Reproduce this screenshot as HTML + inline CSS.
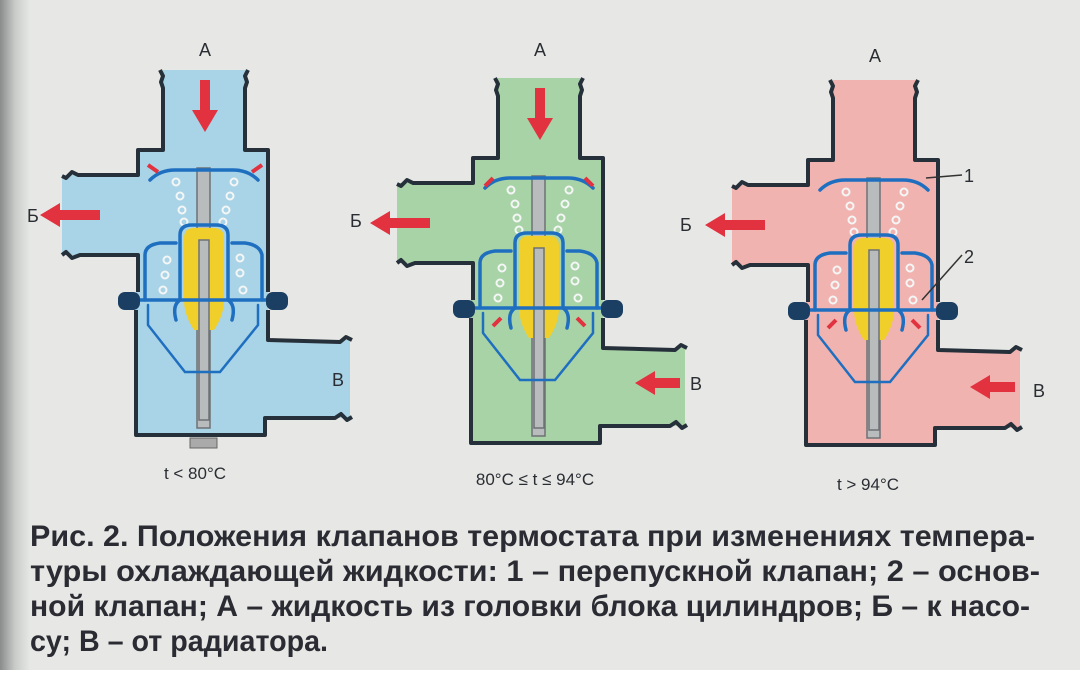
<!DOCTYPE html>
<html><head><meta charset="utf-8"><style>
html,body{margin:0;padding:0;background:#fff;}
svg{display:block;}
</style></head><body>
<svg width="1080" height="691" viewBox="0 0 1080 691" xmlns="http://www.w3.org/2000/svg">
<defs>
<linearGradient id="edge" x1="0" x2="1" y1="0" y2="0">
<stop offset="0" stop-color="#8a8c8c"/><stop offset="0.5" stop-color="#c9cbc9"/><stop offset="1" stop-color="#e6e8e5"/>
</linearGradient>
<g id="thermo">
<g fill="none" stroke="#f4f6f6" stroke-width="2">
<circle cx="176" cy="182" r="3.5"/><circle cx="180" cy="196" r="3.5"/><circle cx="182" cy="210" r="3.5"/><circle cx="184" cy="222" r="3.5"/>
<circle cx="234" cy="182" r="3.5"/><circle cx="230" cy="196" r="3.5"/><circle cx="226" cy="210" r="3.5"/><circle cx="223" cy="222" r="3.5"/>
<circle cx="167" cy="260" r="3.5"/><circle cx="165" cy="275" r="3.5"/><circle cx="163" cy="290" r="3.5"/>
<circle cx="240" cy="258" r="3.5"/><circle cx="240" cy="273" r="3.5"/><circle cx="243" cy="290" r="3.5"/>
</g>
<rect x="197" y="168" width="13" height="260" fill="#b9bcbc" stroke="#6d7275" stroke-width="1.5"/>
<path d="M184,238 Q184,228 194,228 L214,228 Q224,228 224,238 L224,300 Q224,315 214,330 L194,330 Q184,315 184,300 Z" fill="#f1cf2a"/>
<rect x="199" y="240" width="10" height="180" fill="#b9bcbc" stroke="#6d7275" stroke-width="1.5"/>
<g fill="none" stroke="#1f6fc0" stroke-width="3.5" stroke-linecap="round">
<path d="M150,180 Q160,170 175,170 L233,170 Q248,170 258,180"/>
<path d="M180,300 L180,235 Q180,225 192,225 L216,225 Q228,225 228,235 L228,300"/>
<path d="M145,300 L145,255 Q145,245 160,243 L176,243"/>
<path d="M262,300 L262,255 Q260,245 245,243 L232,243"/>
<path d="M125,300 L280,300"/>
<path d="M180,300 Q172,305 176,320"/><path d="M228,300 Q236,305 232,320"/>
<path d="M148,305 L148,325 L185,372 L220,372 L258,325 L258,305" stroke-width="2.5"/>
</g>
<rect x="118" y="292" width="22" height="18" rx="7" fill="#1a3f63"/>
<rect x="266" y="292" width="22" height="18" rx="7" fill="#1a3f63"/>
<path d="M160,70 L163,76 L161,82 L163,88 L163,150 L138,150 L138,175 L78,175 L72,172 L66,178 L62,176 M62,255 L66,252 L72,258 L80,255 L138,255 L138,292 M136,310 L136,435 L265,435 L265,418 L335,418 L341,414 L347,420 L352,417 M352,340 L346,337 L340,342 L268,340 L268,310 M268,292 L268,150 L245,150 L245,88 L247,82 L245,76 L248,70" fill="none" stroke="#26303a" stroke-width="4" stroke-linejoin="round"/>
</g>
</defs>
<rect x="0" y="0" width="1080" height="670" fill="#e7e8e5"/>
<rect x="0" y="0" width="30" height="670" fill="url(#edge)"/>

<g>
<path d="M163,70 L245,70 L245,150 L268,150 L268,340 L350,340 L350,418 L265,418 L265,435 L136,435 L136,255 L62,255 L62,175 L138,175 L138,150 L163,150 Z" fill="#a9d3e6"/>
<use href="#thermo"/>
<rect x="190" y="438" width="27" height="10" fill="#aaa" stroke="#666"/>
<path d="M200,80 L210,80 L210,110 L218,110 L205,132 L192,110 L200,110 Z" fill="#e2313f"/>
<path d="M100,210 L100,220 L60,220 L60,227 L40,215 L60,203 L60,210 Z" fill="#e2313f"/>
<path d="M148,165 L158,172 M262,165 L252,172" stroke="#e2313f" stroke-width="4"/>
</g>
<g font-family="Liberation Sans,sans-serif" font-size="18" fill="#2a2d33">
<text x="205" y="56" text-anchor="middle">А</text>
<text x="27" y="222">Б</text>
<text x="332" y="386">В</text>
<text x="195" y="479" text-anchor="middle" font-size="17">t &lt; 80°C</text>
<text x="540" y="56" text-anchor="middle">А</text>
<text x="350" y="227">Б</text>
<text x="690" y="390">В</text>
<text x="535" y="485" text-anchor="middle" font-size="17">80°C ≤ t ≤ 94°C</text>
<text x="875" y="62" text-anchor="middle">А</text>
<text x="680" y="231">Б</text>
<text x="1033" y="397">В</text>
<text x="964" y="182">1</text>
<text x="964" y="263">2</text>
<text x="868" y="490" text-anchor="middle" font-size="17">t &gt; 94°C</text>
</g>

<g transform="translate(335,8)">
<path d="M163,70 L245,70 L245,150 L268,150 L268,340 L350,340 L350,418 L265,418 L265,435 L136,435 L136,255 L62,255 L62,175 L138,175 L138,150 L163,150 Z" fill="#a8d3a6"/>
<use href="#thermo"/>
<path d="M200,80 L210,80 L210,110 L218,110 L205,132 L192,110 L200,110 Z" fill="#e2313f"/>
<path d="M95,210 L95,220 L55,220 L55,227 L35,215 L55,203 L55,210 Z" fill="#e2313f"/>
<path d="M345,370 L345,380 L320,380 L320,387 L300,375 L320,363 L320,370 Z" fill="#e2313f"/>
<path d="M150,178 L158,170 M258,178 L250,170 M158,318 L166,310 M250,318 L242,310" stroke="#e2313f" stroke-width="4"/>
</g>

<g transform="translate(670,10)">
<path d="M163,70 L245,70 L245,150 L268,150 L268,340 L350,340 L350,418 L265,418 L265,435 L136,435 L136,255 L62,255 L62,175 L138,175 L138,150 L163,150 Z" fill="#f1b3b0"/>
<use href="#thermo"/>
<path d="M95,210 L95,220 L55,220 L55,227 L35,215 L55,203 L55,210 Z" fill="#e2313f"/>
<path d="M345,372 L345,382 L320,382 L320,389 L300,377 L320,365 L320,372 Z" fill="#e2313f"/>
<path d="M158,318 L166,310 M250,318 L242,310" stroke="#e2313f" stroke-width="4"/>
<path d="M256,168 L292,165 M252,290 L292,245" stroke="#333" stroke-width="1.5"/>
</g>

<g font-family="Liberation Sans,sans-serif" font-weight="bold" font-size="30" fill="#2b2c33">
<text x="30" y="546" textLength="1005" lengthAdjust="spacingAndGlyphs">Рис. 2. Положения клапанов термостата при изменениях темпера-</text>
<text x="30" y="581" textLength="1010" lengthAdjust="spacingAndGlyphs">туры охлаждающей жидкости: 1 – перепускной клапан; 2 – основ-</text>
<text x="30" y="616" textLength="1000" lengthAdjust="spacingAndGlyphs">ной клапан; А – жидкость из головки блока цилиндров; Б – к насо-</text>
<text x="30" y="651" textLength="298" lengthAdjust="spacingAndGlyphs">су; В – от радиатора.</text>
</g>
</svg>
</body></html>
